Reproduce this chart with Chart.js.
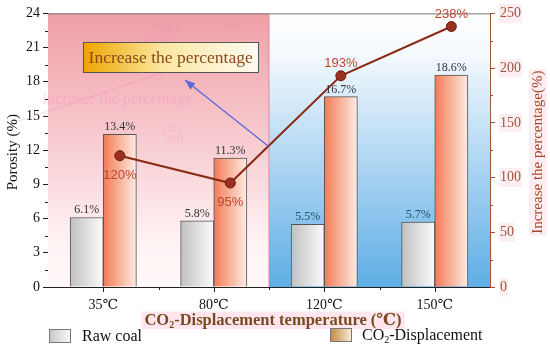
<!DOCTYPE html>
<html><head><meta charset="utf-8">
<script src="https://cdn.jsdelivr.net/npm/chart.js@4"></script>
<style>html,body{margin:0;padding:0;background:#fff}#wrap{width:550px;height:350px}</style>
</head><body><div id="wrap"><canvas id="c" width="550" height="350"></canvas></div>
<script>
const categories = ['35\u2103', '80\u2103', '120\u2103', '150\u2103'];
const rawCoal = [6.1, 5.8, 5.5, 5.7];
const co2Disp = [13.4, 11.3, 16.7, 18.6];
const increasePct = [120, 95, 193, 238];
const pctLabelSide = ['below', 'below', 'above', 'above'];

const SERIF = '"Liberation Serif", "DejaVu Serif", serif';
const SANS = '"Liberation Sans", Arial, sans-serif';
const BAR_W = 0.3;               // bar width in category units
const OFF = [-BAR_W / 2, BAR_W / 2];

function barGrad(ctx, which) {
  const chart = ctx.chart; const xs = chart.scales.x2;
  if (!chart.chartArea || !xs) return '#ccc';
  const c = xs.getPixelForValue(ctx.dataIndex + OFF[which]);
  const hw = (xs.getPixelForValue(1) - xs.getPixelForValue(0)) * BAR_W / 2;
  const g = chart.ctx.createLinearGradient(c - hw, 0, c + hw, 0);
  if (which === 0) { g.addColorStop(0, '#c0c0c0'); g.addColorStop(1, '#fbfbfb'); }
  else { g.addColorStop(0, '#f37a58'); g.addColorStop(0.4, '#f8a88c'); g.addColorStop(1, '#fdece6'); }
  return g;
}

const deco = {
  id: 'deco',
  beforeDatasetsDraw(chart) {
    const { ctx, chartArea: a, scales } = chart;
    const mid = scales.x2.getPixelForValue(1.5);
    ctx.save();
    let g = ctx.createLinearGradient(0, a.top, 0, a.bottom);
    g.addColorStop(0, '#f09ea6'); g.addColorStop(0.55, '#f9d4d8'); g.addColorStop(0.85, '#fff4f5'); g.addColorStop(1, '#fff8f8');
    ctx.fillStyle = g; ctx.fillRect(a.left, a.top, mid - a.left, a.bottom - a.top);
    g = ctx.createLinearGradient(0, a.top, 0, a.bottom);
    g.addColorStop(0, '#ffffff'); g.addColorStop(0.15, '#f4f9fd'); g.addColorStop(1, '#5eaee6');
    ctx.fillStyle = g; ctx.fillRect(mid, a.top, a.right - mid, a.bottom - a.top);
    // faint ghost artifacts
    ctx.globalAlpha = 0.22; ctx.fillStyle = '#f070c0'; ctx.font = '16px ' + SERIF;
    ctx.textBaseline = 'middle'; ctx.textAlign = 'left';
    ctx.fillText('Increase the percentage', 42, 100);
    ctx.font = '12px ' + SANS;
    ctx.fillText('238%', 150, 30); ctx.fillText('200%', 143, 41);
    ctx.font = '12px ' + SERIF; ctx.fillText('250', 222, 27); ctx.fillText('200', 165, 140); ctx.fillText('200', 162, 129);
    ctx.strokeStyle = '#f050c0'; ctx.lineWidth = 1;
    ctx.beginPath(); ctx.moveTo(10, 124); ctx.lineTo(170, 70); ctx.stroke();
    ctx.globalAlpha = 1;
    ctx.strokeStyle = '#e088a8'; ctx.beginPath(); ctx.moveTo(mid, a.top); ctx.lineTo(mid, a.bottom); ctx.stroke();
    ctx.strokeStyle = '#777'; ctx.beginPath(); ctx.moveTo(a.left, a.top + 0.5); ctx.lineTo(a.right, a.top + 0.5); ctx.stroke();
    ctx.restore();
  },
  afterDatasetsDraw(chart) {
    const { ctx, scales } = chart;
    ctx.save();
    ctx.textAlign = 'center'; ctx.textBaseline = 'alphabetic'; ctx.font = '12px ' + SERIF;
    [0, 1].forEach(di => {
      const meta = chart.getDatasetMeta(di);
      const vals = di === 0 ? rawCoal : co2Disp;
      meta.data.forEach((b, i) => {
        ctx.fillStyle = (di === 0 && i >= 2) ? '#24506a' : '#333';
        ctx.fillText(vals[i].toFixed(1) + '%', b.x, b.y - 4);
      });
    });
    const lm = chart.getDatasetMeta(2);
    ctx.font = '13px ' + SANS; ctx.fillStyle = '#c0452f';
    lm.data.forEach((p, i) => {
      const y = pctLabelSide[i] === 'below' ? p.y + 23 : p.y - 9;
      ctx.fillText(increasePct[i] + '%', p.x, y);
    });
    // annotation box
    const x2 = scales.x2, y = scales.y;
    const bl = x2.getPixelForValue(-0.18), br = x2.getPixelForValue(1.4);
    const bt = y.getPixelForValue(21.5), bb = y.getPixelForValue(18.85);
    let g = ctx.createLinearGradient(bl, 0, br, 0);
    g.addColorStop(0, '#eea400'); g.addColorStop(0.45, '#fbe7a0'); g.addColorStop(1, '#fffaf2');
    ctx.fillStyle = g; ctx.fillRect(bl, bt, br - bl, bb - bt);
    ctx.strokeStyle = '#555'; ctx.lineWidth = 1; ctx.strokeRect(Math.round(bl) + 0.5, Math.round(bt) + 0.5, Math.round(br - bl), Math.round(bb - bt));
    ctx.fillStyle = '#8a4a1c'; ctx.font = '17.5px ' + SERIF; ctx.textBaseline = 'middle';
    ctx.fillText('Increase the percentage', (bl + br) / 2, (bt + bb) / 2 + 1);
    // arrow
    const sx = x2.getPixelForValue(1.5), sy = y.getPixelForValue(12.3);
    const ex = x2.getPixelForValue(0.74), ey = y.getPixelForValue(18.15);
    ctx.strokeStyle = '#5a68dc'; ctx.fillStyle = '#5a68dc'; ctx.lineWidth = 1.3;
    ctx.beginPath(); ctx.moveTo(sx, sy); ctx.lineTo(ex, ey); ctx.stroke();
    const ang = Math.atan2(ey - sy, ex - sx), L = 10, W = 4;
    ctx.beginPath(); ctx.moveTo(ex, ey);
    ctx.lineTo(ex - L * Math.cos(ang) + W * Math.sin(ang), ey - L * Math.sin(ang) - W * Math.cos(ang));
    ctx.lineTo(ex - L * Math.cos(ang) - W * Math.sin(ang), ey - L * Math.sin(ang) + W * Math.cos(ang));
    ctx.closePath(); ctx.fill();
    ctx.restore();
  },
  afterDraw(chart) {
    const { ctx, chartArea: a, scales } = chart;
    ctx.save();
    ctx.lineWidth = 1;
    ctx.strokeStyle = '#222';
    for (let v = 1.5; v < 24; v += 3) { const p = Math.round(scales.y.getPixelForValue(v)) + 0.5; ctx.beginPath(); ctx.moveTo(a.left - 3, p); ctx.lineTo(a.left, p); ctx.stroke(); }
    ctx.strokeStyle = '#a0553a';
    for (let v = 25; v < 250; v += 50) { const p = Math.round(scales.y1.getPixelForValue(v)) + 0.5; ctx.beginPath(); ctx.moveTo(a.right, p); ctx.lineTo(a.right + 3, p); ctx.stroke(); }
    ctx.strokeStyle = '#222';
    for (let i = 0; i < categories.length; i++) {
      const c = Math.round(scales.x2.getPixelForValue(i)) + 0.5;
      ctx.beginPath(); ctx.moveTo(c, a.bottom); ctx.lineTo(c, a.bottom + 5); ctx.stroke();
      if (i < categories.length - 1) {
        const bnd = Math.round(scales.x2.getPixelForValue(i + 0.5)) + 0.5;
        ctx.beginPath(); ctx.moveTo(bnd, a.bottom); ctx.lineTo(bnd, a.bottom + 3); ctx.stroke();
      }
    }
    ctx.textAlign = 'center'; ctx.textBaseline = 'middle';
    ctx.save(); ctx.translate(13, (a.top + a.bottom) / 2 + 2); ctx.rotate(-Math.PI / 2);
    ctx.fillStyle = '#111'; ctx.font = '15px ' + SERIF; ctx.fillText('Porosity (%)', 0, 0); ctx.restore();
    ctx.save(); ctx.translate(538, (a.top + a.bottom) / 2 + 2); ctx.rotate(-Math.PI / 2);
    ctx.font = '15px ' + SERIF;
    const rt = 'Increase the percentage(%)'; const rw = ctx.measureText(rt).width;
    ctx.fillStyle = '#fdeef2'; ctx.fillRect(-rw / 2 - 2, -9, rw + 4, 18);
    ctx.fillStyle = '#a8482c'; ctx.fillText(rt, 0, 0); ctx.restore();
    function drawCO2(text, x, yb, size, bold, color, align, bg) {
      const f = (bold ? 'bold ' : '') + size + 'px ' + SERIF;
      const fs = (bold ? 'bold ' : '') + Math.round(size * 0.6) + 'px ' + SERIF;
      ctx.font = f; const w1 = ctx.measureText('CO').width;
      ctx.font = fs; const w2 = ctx.measureText('2').width;
      ctx.font = f; const w3 = ctx.measureText(text).width;
      const total = w1 + w2 + w3;
      const x0 = align === 'center' ? x - total / 2 : x;
      if (bg) { ctx.fillStyle = bg; ctx.fillRect(x0 - 3, yb - size + 3, total + 6, size + 1); }
      ctx.fillStyle = color; ctx.textAlign = 'left'; ctx.textBaseline = 'alphabetic';
      ctx.font = f; ctx.fillText('CO', x0, yb);
      ctx.font = fs; ctx.fillText('2', x0 + w1, yb + 3);
      ctx.font = f; ctx.fillText(text, x0 + w1 + w2, yb);
    }
    drawCO2('-Displacement temperature (\u2103)', 273, 325, 16.5, true, '#7b4a22', 'center', '#fde6ee');
    let g = ctx.createLinearGradient(49, 0, 70, 0);
    g.addColorStop(0, '#c4c4c4'); g.addColorStop(1, '#fafafa');
    ctx.fillStyle = g; ctx.fillRect(49, 329, 21, 13);
    ctx.strokeStyle = '#777'; ctx.strokeRect(49.5, 329.5, 21, 13);
    ctx.fillStyle = '#111'; ctx.font = '16px ' + SERIF; ctx.textAlign = 'left'; ctx.textBaseline = 'alphabetic';
    ctx.fillText('Raw coal', 82, 341);
    g = ctx.createLinearGradient(330, 0, 351, 0);
    g.addColorStop(0, '#c4853e'); g.addColorStop(1, '#f8ead4');
    ctx.fillStyle = g; ctx.fillRect(330, 328, 21, 13);
    ctx.strokeStyle = '#777'; ctx.strokeRect(330.5, 328.5, 21, 13);
    drawCO2('-Displacement', 362, 340, 16, false, '#111', 'left', null);
    ctx.restore();
  }
};

new Chart(document.getElementById('c'), {
  type: 'bar',
  data: {
    labels: categories,
    datasets: [
      { label: 'Raw coal', data: rawCoal.map((v, i) => ({ x: i + OFF[0], y: v })), xAxisID: 'x2', yAxisID: 'y', grouped: false,
        backgroundColor: c => barGrad(c, 0), borderColor: '#555', borderWidth: 1, borderSkipped: 'bottom', categoryPercentage: 1, barPercentage: 1, order: 2 },
      { label: 'CO2-Displacement', data: co2Disp.map((v, i) => ({ x: i + OFF[1], y: v })), xAxisID: 'x2', yAxisID: 'y', grouped: false,
        backgroundColor: c => barGrad(c, 1), borderColor: '#555', borderWidth: 1, borderSkipped: 'bottom', categoryPercentage: 1, barPercentage: 1, order: 2 },
      { type: 'line', label: 'Increase the percentage', data: increasePct.map((v, i) => ({ x: i + OFF[1], y: v })), xAxisID: 'x2', yAxisID: 'y1',
        borderColor: '#8b2a14', borderWidth: 2, pointRadius: 5, pointBackgroundColor: '#9a3020', pointBorderColor: '#6a1a0a', pointBorderWidth: 1, tension: 0, order: 1 }
    ]
  },
  options: {
    responsive: false, animation: false, devicePixelRatio: 1,
    layout: { padding: { top: 8, left: 0, right: 0, bottom: 0 } },
    plugins: { legend: { display: false }, tooltip: { enabled: false } },
    scales: {
      x: { type: 'category', offset: true, afterFit: s => { s.height = 63; },
        grid: { display: false }, border: { display: true, color: '#222', width: 1 },
        ticks: { color: '#111', font: { family: SERIF, size: 14 }, padding: 2 } },
      x2: { type: 'linear', display: false, offset: false, min: -0.5, max: 3.5, ticks: { stepSize: 1 } },
      y: { position: 'left', min: 0, max: 24, afterFit: s => { s.width = 48; },
        ticks: { stepSize: 3, color: '#111', font: { family: SERIF, size: 14 }, padding: 3 },
        grid: { drawOnChartArea: false, drawTicks: true, tickLength: 5, tickColor: '#222' },
        border: { display: true, color: '#222', width: 1 } },
      y1: { position: 'right', min: 0, max: 250, afterFit: s => { s.width = 60; },
        ticks: { stepSize: 50, color: '#a0553a', font: { family: SERIF, size: 14 }, padding: 5, backdropColor: '#fdeef2', showLabelBackdrop: true, backdropPadding: 1 },
        grid: { drawOnChartArea: false, drawTicks: true, tickLength: 5, tickColor: '#a0553a' },
        border: { display: true, color: '#a0553a', width: 1 } }
    }
  },
  plugins: [deco]
});
</script></body></html>
